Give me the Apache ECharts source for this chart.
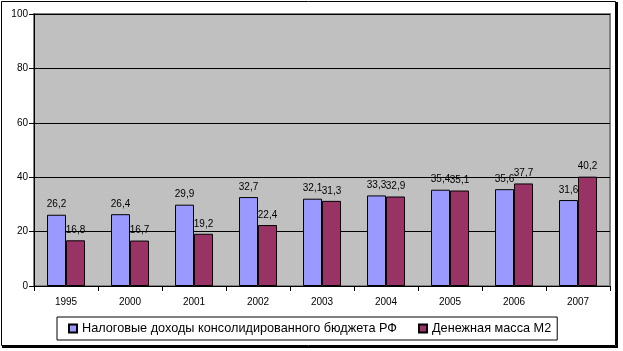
<!DOCTYPE html>
<html>
<head>
<meta charset="utf-8">
<script src="https://cdn.jsdelivr.net/npm/echarts@6/dist/echarts.min.js"></script>
<style>
  html, body { margin: 0; padding: 0; background: #fff; }
  #chart { width: 623px; height: 351px; }
</style>
</head>
<body>
<div id="chart"></div>
<script>
// years on the x axis
const years = ["1995", "2000", "2001", "2002", "2003", "2004", "2005", "2006", "2007"];
// tax revenues of the consolidated budget, % of GDP
const taxRevenue = [26.2, 26.4, 29.9, 32.7, 32.1, 33.3, 35.4, 35.6, 31.6];
// money supply M2, % of GDP
const moneySupply = [16.8, 16.7, 19.2, 22.4, 31.3, 32.9, 35.1, 37.7, 40.2];

const seriesNames = ["Налоговые доходы консолидированного бюджета РФ", "Денежная масса М2"];

const chart = echarts.init(document.getElementById("chart"));

const fmt = (p) => String(p.value).replace(".", ",");

const label = {
  show: true,
  position: "top",
  distance: 5,
  color: "#000",
  fontFamily: "Arial",
  fontSize: 10,
  formatter: fmt,
};

chart.setOption({
  animation: false,
  textStyle: { fontFamily: "Arial" },
  graphic: [
    {
      // outer frame with a small shadow on right and bottom
      type: "rect",
      shape: { x: 1.5, y: 1.5, width: 614, height: 344 },
      style: { fill: "none", stroke: "#000", lineWidth: 1 },
      z: 100,
    },
    {
      type: "polyline",
      shape: { points: [[617, 2], [617, 347], [2, 347]] },
      style: { stroke: "#000", lineWidth: 2, fill: "none" },
      z: 100,
    },
  ],
  grid: {
    left: 34,
    right: 13,
    top: 14,
    bottom: 65,
    show: true,
    backgroundColor: "#C0C0C0",
    borderColor: "#808080",
    borderWidth: 2,
  },
  legend: {
    data: seriesNames,
    left: 57,
    top: 317,
    orient: "horizontal",
    itemWidth: 8,
    itemHeight: 8,
    itemGap: 21,
    padding: [5, 6, 5, 11],
    borderColor: "#000",
    borderWidth: 1,
    icon: "rect",
    textStyle: { fontFamily: "Arial", fontSize: 12.7, color: "#000" },
  },
  xAxis: {
    type: "category",
    data: years,
    axisLine: { lineStyle: { color: "#000", width: 1 } },
    axisTick: { show: true, length: 5, alignWithLabel: false, lineStyle: { color: "#000" } },
    axisLabel: { color: "#000", fontFamily: "Arial", fontSize: 10, margin: 11 },
  },
  yAxis: {
    type: "value",
    min: 0,
    max: 100,
    interval: 20,
    axisLine: { show: true, lineStyle: { color: "#000", width: 1 } },
    axisTick: { show: true, length: 5, lineStyle: { color: "#000" } },
    axisLabel: { color: "#000", fontFamily: "Arial", fontSize: 10, margin: 6 },
    splitLine: { show: true, lineStyle: { color: "#000", width: 1 } },
  },
  series: [
    {
      name: seriesNames[0],
      type: "bar",
      data: taxRevenue,
      barWidth: 19,
      barGap: "0%",
      itemStyle: { color: "#9999FF", borderColor: "#000", borderWidth: 1 },
      label: label,
    },
    {
      name: seriesNames[1],
      type: "bar",
      data: moneySupply,
      barWidth: 19,
      itemStyle: { color: "#993366", borderColor: "#000", borderWidth: 1 },
      label: label,
    },
  ],
});
</script>
</body>
</html>
